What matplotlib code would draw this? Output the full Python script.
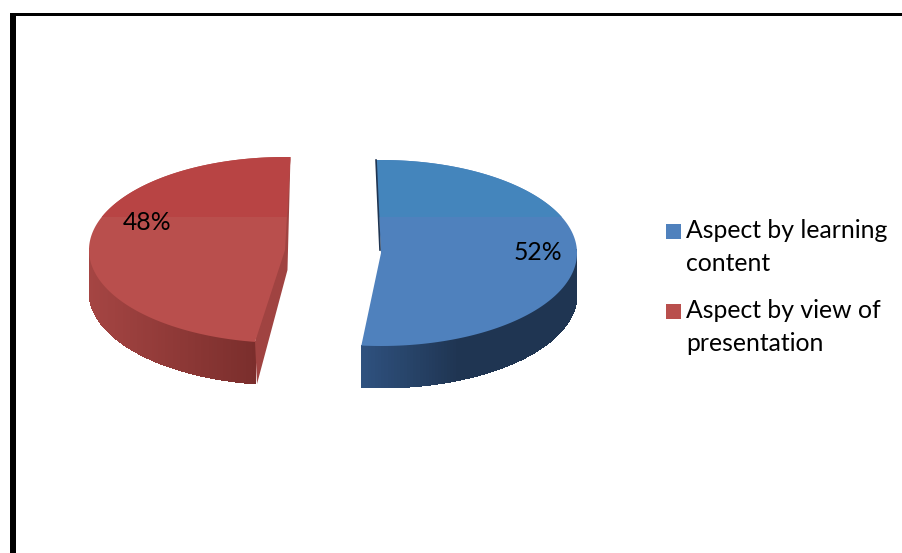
import numpy as np
import matplotlib
matplotlib.use("Agg")
import matplotlib.pyplot as plt
from matplotlib.patches import Polygon, Rectangle
from matplotlib.colors import to_rgb

labels = ["Aspect by learning\ncontent", "Aspect by view of\npresentation"]
values = [52, 48]
pct_labels = ["52%", "48%"]

face_col = ["#4f81bd", "#b94f4d"]
band_col = ["#4485bc", "#b84444"]
side_left = ["#2f5280", "#a54543"]
side_right = ["#1f3552", "#7a2e2c"]

plt.rcParams['font.family'] = ['Lato', 'DejaVu Sans']

fig = plt.figure(figsize=(9.02, 5.53), dpi=100)
ax = fig.add_axes([0, 0, 1, 1])
ax.set_xlim(0, 902)
ax.set_ylim(553, 0)
ax.axis("off")

depth = 42
ry = 93


def mix(c1, c2, t):
    a = np.array(to_rgb(c1))
    b = np.array(to_rgb(c2))
    return tuple(a + (b - a) * t)


def slice3d(i, cx, cy, rx, start, direction):
    sweep = values[i] / sum(values) * 360
    th = np.radians(np.linspace(start, start + direction * sweep, 200))
    xs = cx + rx * np.cos(th)
    ys = cy - ry * np.sin(th)

    # outer wall as thin strips, only the front part shows
    lo, hi = xs[ys >= cy].min(), xs[ys >= cy].max()
    for k in range(len(th) - 1):
        if ys[k] < cy - 2 and ys[k + 1] < cy - 2:
            continue
        t = (xs[k] - lo) / (hi - lo)
        if i == 0:
            t = min(t * 2.2, 1)
        q = [(xs[k], ys[k]), (xs[k + 1], ys[k + 1]),
             (xs[k + 1], ys[k + 1] + depth), (xs[k], ys[k] + depth)]
        ax.add_patch(Polygon(q, fc=mix(side_left[i], side_right[i], t), ec="none", lw=0, aa=False))

    pts = np.column_stack([xs, ys])
    pts = np.vstack([pts, [cx, cy]])

    # cut wall of the red slice
    if i == 1:
        w = [(xs[0], ys[0]), (xs[0] - 3, cy + 20), (xs[-1] + 2, ys[-1] + depth), (xs[-1], ys[-1])]
        ax.add_patch(Polygon(w, fc="#a04341", ec="none"))

    face = Polygon(pts, fc=face_col[i], ec="none")
    ax.add_patch(face)

    band = Rectangle((cx - rx - 5, cy - ry - 5), 2 * rx + 10, 217 - (cy - ry - 5), fc=band_col[i], ec="none")
    ax.add_patch(band)
    band.set_clip_path(face)

    if i == 0:
        ax.plot([xs[0], cx - 1], [ys[0], cy - 3], color="#1f3552", lw=1.2)


slice3d(1, 285, 250, 196, 88.4, 1)
slice3d(0, 381, 253, 196, 91.45, -1)

# percentage labels
ax.text(538, 253, pct_labels[0], fontsize=17.8, ha="center", va="center", color="#000000")
ax.text(147, 223, pct_labels[1], fontsize=17.8, ha="center", va="center", color="#000000")

# legend
leg_y = [231, 311]
for i in range(2):
    ax.add_patch(Rectangle((666, leg_y[i] - 7), 15, 15, fc=face_col[i], ec="none"))
    ax.text(686, leg_y[i] - 12, labels[i], fontsize=17.8, va="top", ha="left",
            color="#000000", linespacing=1.53)

# frame round the picture
ax.add_patch(Rectangle((10, 13), 6, 545, fc="#000000", ec="none"))
ax.add_patch(Rectangle((10, 13), 900, 3, fc="#000000", ec="none"))

fig.savefig("out.png", dpi=100)
